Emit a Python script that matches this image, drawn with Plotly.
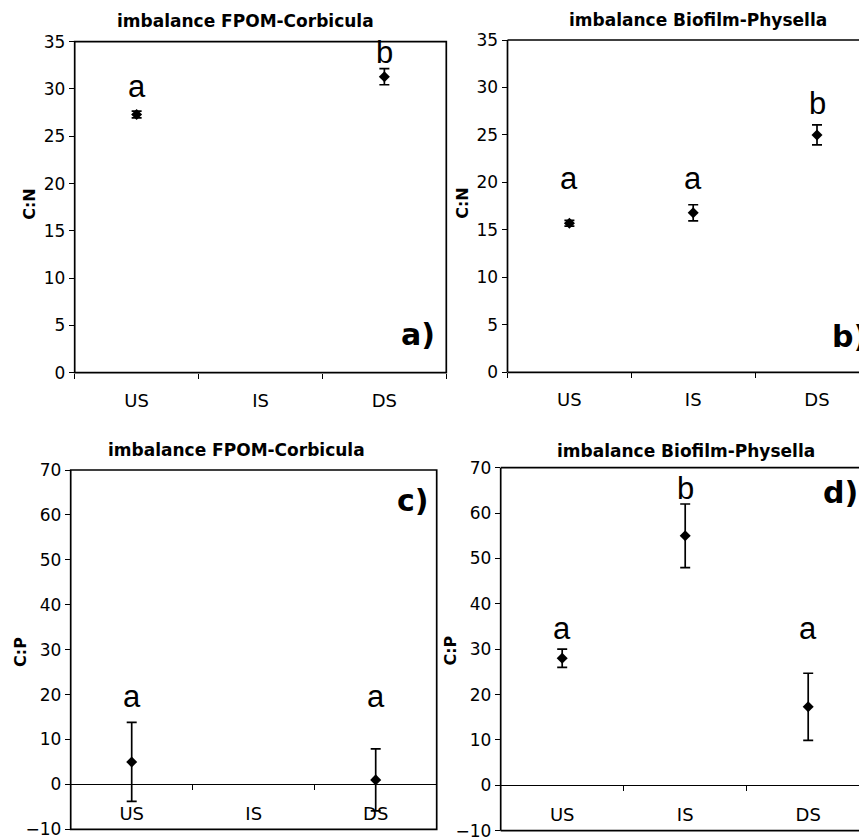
import plotly.graph_objects as go

# the page adds an 8px body margin, so the figure is drawn 8px in from the corner
OFF = 8
W, H = 867 - OFF, 840 - OFF

sites = ["US", "IS", "DS"]

# C:N, FPOM-Corbicula (panel a)
cn_fpom = [27.3, None, 31.3]
cn_fpom_err = [0.35, 0, 0.85]
cn_fpom_letters = ["a", "", "b"]

# C:N, Biofilm-Physella (panel b)
cn_bio = [15.7, 16.8, 25.0]
cn_bio_err = [0.3, 0.85, 1.05]
cn_bio_letters = ["a", "a", "b"]

# C:P, FPOM-Corbicula (panel c)
cp_fpom = [5.0, None, 1.0]
cp_fpom_err = [8.8, 0, 6.9]
cp_fpom_letters = ["a", "", "a"]

# C:P, Biofilm-Physella (panel d)
cp_bio = [28.0, 55.0, 17.3]
cp_bio_err = [2.0, 7.0, 7.4]
cp_bio_letters = ["a", "b", "a"]

AXIS_FONT = "DejaVu Sans"
LETTER_FONT = "Liberation Sans, Arial"


def px_x(v):
    return (v - OFF) / W


def px_y(v):
    return 1 - (v - OFF) / H


# panel boxes in screen pixels: left, right, top, bottom, plus layout bits
panels = [
    dict(key="", y=cn_fpom, err=cn_fpom_err, letters=cn_fpom_letters, letter_y=[29.9, None, 33.9],
         box=(74.7, 446.3, 41.7, 372.7), yrange=[0, 35], dtick=5, xmax=2.5, cut=False,
         title="imbalance FPOM-Corbicula", title_xy=(246, 20.7), ytitle="C:N", ytitle_xy=(28.8, 204),
         tag="a)", tag_xy=(418, 334), zero_axis=False),
    dict(key="2", y=cn_bio, err=cn_bio_err, letters=cn_bio_letters, letter_y=[20.1, 20.1, 28.3],
         box=(507.5, 867, 40, 372.3), yrange=[0, 35], dtick=5, xmax=-0.5 + (867 - 507.5) / 123.8, cut=True,
         title="imbalance Biofilm-Physella", title_xy=(698, 20), ytitle="C:N", ytitle_xy=(462.5, 203.3),
         tag="b)", tag_xy=(849, 336.7), zero_axis=False),
    dict(key="3", y=cp_fpom, err=cp_fpom_err, letters=cp_fpom_letters, letter_y=[18.8, None, 18.8],
         box=(70.7, 436.7, 470, 829.3), yrange=[-10, 70], dtick=10, xmax=2.5, cut=False,
         title="imbalance FPOM-Corbicula", title_xy=(236.7, 450), ytitle="C:P", ytitle_xy=(20.3, 651.7),
         tag="c)", tag_xy=(412.5, 500), zero_axis=True),
    dict(key="4", y=cp_bio, err=cp_bio_err, letters=cp_bio_letters, letter_y=[34.0, 65.5, 34.0],
         box=(500.7, 867, 467.7, 830.7), yrange=[-10, 70], dtick=10, xmax=-0.5 + (867 - 500.7) / 123.0, cut=True,
         title="imbalance Biofilm-Physella", title_xy=(686, 450.7), ytitle="C:P", ytitle_xy=(450.8, 650.8),
         tag="d)", tag_xy=(840, 492.5), zero_axis=True),
]

fig = go.Figure()
annotations = []
shapes = []
line = dict(color="black", width=1.7)

for p in panels:
    k = p["key"]
    xa, ya = "x" + k, "y" + k
    fig.add_trace(go.Scatter(
        x=sites, y=p["y"], xaxis=xa, yaxis=ya, mode="markers",
        marker=dict(symbol="diamond", size=8.5, color="black"),
        error_y=dict(type="data", array=p["err"], visible=True, color="black", thickness=1.7, width=5),
        showlegend=False, hoverinfo="x+y",
    ))

    l, r, t, b = p["box"]
    y0, y1 = p["yrange"]
    dom_y = [px_y(b), px_y(t)]
    xaxis = dict(
        domain=[px_x(l), min(px_x(r), 1.0)], type="category", categoryorder="array", categoryarray=sites,
        range=[-0.5, p["xmax"]], tickson="boundaries", ticks="outside", ticklen=5, tickwidth=1.2,
        tickcolor="black", showgrid=False, zeroline=False, fixedrange=True, ticklabeloverflow="allow",
        tickfont=dict(family=AXIS_FONT, size=18, color="black"), ticklabelstandoff=15,
    )
    if p["zero_axis"]:
        xaxis.update(anchor="free", position=dom_y[0] + (0 - y0) / (y1 - y0) * (dom_y[1] - dom_y[0]),
                     showline=True, linecolor="black", linewidth=1, ticklabelstandoff=13)
    else:
        xaxis.update(anchor=ya, showline=False)
    yaxis = dict(
        domain=dom_y, anchor=xa, range=p["yrange"], dtick=p["dtick"], ticks="outside", ticklen=5,
        tickwidth=1.2, tickcolor="black", showgrid=False, zeroline=False, showline=False,
        ticklabeloverflow="allow", tickfont=dict(family=AXIS_FONT, size=17, color="black"),
    )
    fig.update_layout({"xaxis" + k: xaxis, "yaxis" + k: yaxis})

    # frame
    if p["cut"]:
        for sx0, sx1, sy0, sy1 in [(0, 0, 0, 1), (0, 1, 1, 1), (0, 1, 0, 0)]:
            shapes.append(dict(type="line", xref=xa + " domain", yref=ya + " domain",
                               x0=sx0, x1=sx1, y0=sy0, y1=sy1, line=line))
    else:
        shapes.append(dict(type="rect", xref=xa + " domain", yref=ya + " domain",
                           x0=0, x1=1, y0=0, y1=1, line=line))

    # significance letters
    for site, letter, ly in zip(sites, p["letters"], p["letter_y"]):
        if not letter:
            continue
        annotations.append(dict(
            x=site, y=ly, xref=xa, yref=ya, text=letter, showarrow=False,
            xanchor="center", yanchor="middle", yshift=3 if letter == "a" else 0,
            font=dict(family=LETTER_FONT, size=31, color="black"),
        ))

    # title, y title, panel tag
    tx, ty = p["title_xy"]
    annotations.append(dict(x=px_x(tx), y=px_y(ty), xref="paper", yref="paper", text=p["title"],
                            showarrow=False, xanchor="center", yanchor="middle",
                            font=dict(family=AXIS_FONT, size=17, color="black", weight="bold")))
    vx, vy = p["ytitle_xy"]
    annotations.append(dict(x=px_x(vx), y=px_y(vy), xref="paper", yref="paper", text=p["ytitle"],
                            showarrow=False, textangle=-90, xanchor="center", yanchor="middle",
                            font=dict(family=AXIS_FONT, size=16, color="black", weight="bold")))
    gx, gy = p["tag_xy"]
    annotations.append(dict(x=px_x(gx), y=px_y(gy), xref="paper", yref="paper", text=p["tag"],
                            showarrow=False, xanchor="center", yanchor="middle",
                            font=dict(family=AXIS_FONT, size=30, color="black", weight="bold")))

fig.update_layout(
    width=W, height=H, template="none",
    margin=dict(l=0, r=0, t=0, b=0),
    paper_bgcolor="white", plot_bgcolor="white",
    annotations=annotations, shapes=shapes,
)

fig.write_html("out.html")
